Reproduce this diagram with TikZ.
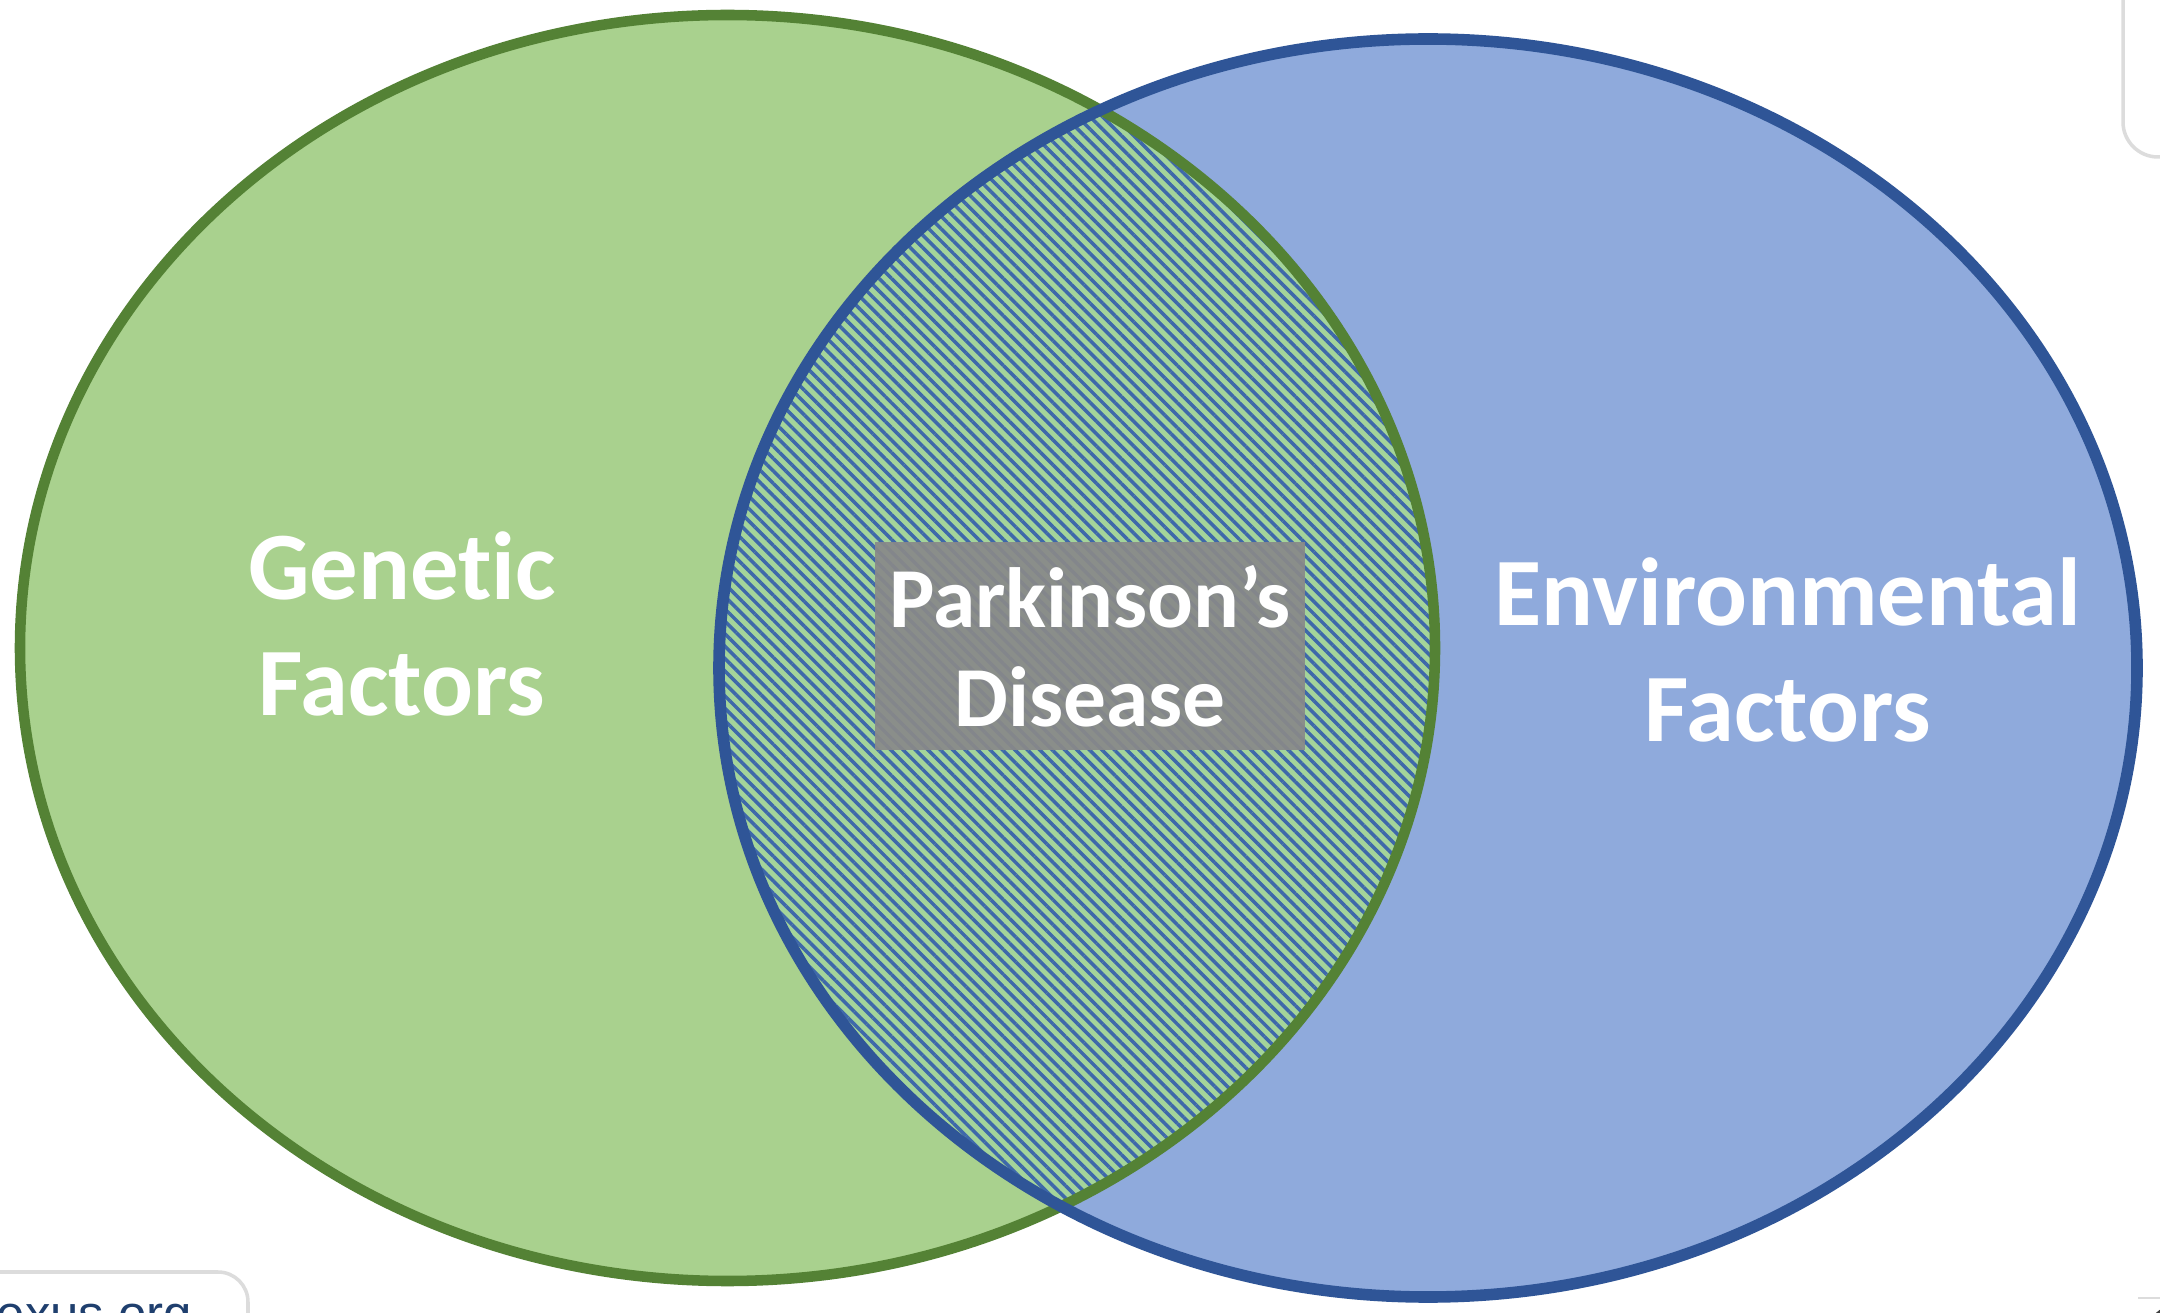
\documentclass[tikz,border=0pt]{standalone}
\usepackage{fontspec}
\setmainfont{Carlito}[Ligatures=NoCommon]
\newfontfamily\webfont{Liberation Sans}
\usetikzlibrary{patterns.meta}

\definecolor{genfill}{HTML}{A9D18E}
\definecolor{genline}{HTML}{548235}
\definecolor{envfill}{HTML}{8FAADC}
\definecolor{envline}{HTML}{2F5597}
\definecolor{hatchbg}{HTML}{A4D49A}
\definecolor{hatchline}{HTML}{3E68AA}
\definecolor{boxgray}{HTML}{898989}
\definecolor{webline}{HTML}{DCDCDC}
\definecolor{webtext}{HTML}{1F3F6E}

\begin{document}
\begin{tikzpicture}[x=0.1mm,y=-0.1mm,
				factor/.style={text=white, font=\bfseries\fontsize{27.5}{33}\selectfont, align=center, inner sep=0},
				rim/.style={line width=3pt},
				diseasebox/.style={factor, font=\bfseries\fontsize{24.3}{28.3}\selectfont, fill=boxgray, fill opacity=0.93, text opacity=1, minimum width=43mm, minimum height=20.8mm}]
				
				\clip (0,0) rectangle (2160,1313);
				\fill[white] (0,0) rectangle (2160,1313);
				\coordinate (g) at (727.5,648);
				\coordinate (e) at (1428,668);
				
				% the two sets
				\fill[genfill] (g) ellipse [x radius=707.5, y radius=633];
				\fill[envfill] (e) ellipse [x radius=709, y radius=629];
				\begin{scope}
				\clip (g) ellipse [x radius=707.5, y radius=633];
				\fill[hatchbg] (e) ellipse [x radius=709, y radius=629];
				\fill[pattern={Lines[angle=-45,distance=2.5pt,line width=1pt]}, pattern color=hatchline] (e) ellipse [x radius=709, y radius=629];
				\end{scope}
				\draw[rim,genline] (g) ellipse [x radius=707.5, y radius=633];
				\draw[rim,envline,line width=3.3pt] (e) ellipse [x radius=709, y radius=629];
				
				\node [factor] (gen) at (402,624) {Genetic\\Factors};
				\node [factor] (env) at (1788,650) {Environmental\\Factors};
				\node [diseasebox] (pd) at (1090,646) {Parkinson’s\\Disease};
				
				% bits of the web page round the figure
				\draw[webline,line width=1pt,rounded corners=3mm] (-20,1272) -| (248,1400);
				\node [text=webtext, font=\webfont\fontsize{14.5}{16}\selectfont, anchor=base west, inner sep=0] (web) at (-4,1331) {exus.org};
				\draw[webline,line width=1pt,rounded corners=3.5mm] (2123,-20) |- (2200,157);
				\draw[webline,line width=0.5pt] (2138,1298) -- (2170,1298);
				\draw[black!75,line width=2pt] (2178,1338) circle (30);
				\end{tikzpicture}
\end{document}
